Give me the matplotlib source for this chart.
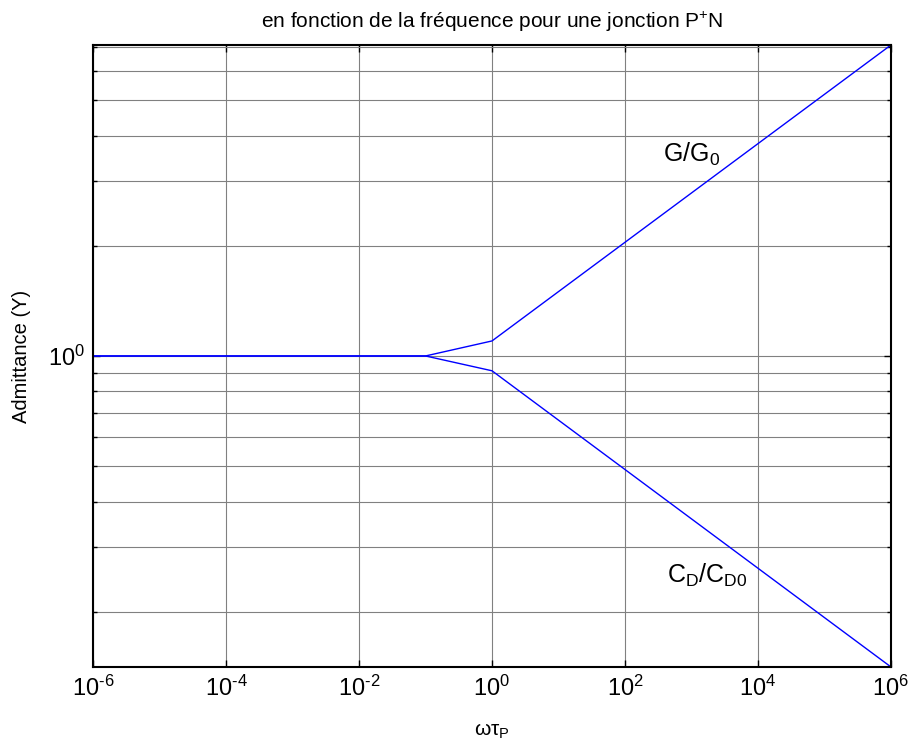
import matplotlib
matplotlib.use("Agg")
import matplotlib.pyplot as plt
from matplotlib.ticker import FixedLocator, NullLocator, NullFormatter, LogLocator, FuncFormatter
import numpy as np

plt.rcParams['font.family'] = ['Liberation Sans', 'DejaVu Sans']
plt.rcParams['mathtext.fontset'] = 'custom'
plt.rcParams['mathtext.rm'] = 'Liberation Sans'
plt.rcParams['mathtext.it'] = 'Liberation Sans'
plt.rcParams['axes.unicode_minus'] = False

# valeurs
w_tau = [1e-6, 1e-1, 1e0, 1e6]
G_G0 = [1.0, 1.0, 1.099, 7.07]
CD_CD0 = [1.0, 1.0, 0.911, 0.1414]
x_ticks = [1e-6, 1e-4, 1e-2, 1e0, 1e2, 1e4, 1e6]

fig = plt.figure(figsize=(9.09, 7.47), dpi=100)
ax = fig.add_axes([0.1023, 0.1071, 0.8779, 0.8327])

ax.loglog(w_tau, G_G0, color='blue', lw=1)
ax.loglog(w_tau, CD_CD0, color='blue', lw=1)

ax.set_xlim(1e-6, 1e6)
ax.set_ylim(min(CD_CD0), max(G_G0))

pow10 = FuncFormatter(lambda v, pos: r'10$^{\text{%d}}$' % round(np.log10(v)))
ax.xaxis.set_major_locator(FixedLocator(x_ticks))
ax.xaxis.set_minor_locator(NullLocator())
ax.xaxis.set_major_formatter(pow10)
ax.yaxis.set_major_locator(LogLocator(base=10))
ax.yaxis.set_major_formatter(pow10)
ax.yaxis.set_minor_locator(LogLocator(base=10, subs=np.arange(2, 10)))
ax.yaxis.set_minor_formatter(NullFormatter())

ax.grid(True, axis='x', which='major', color='0.5', lw=0.8)
ax.grid(True, axis='y', which='both', color='0.5', lw=0.8)

ax.tick_params(which='both', direction='in', top=True, right=True, labelsize=17, width=1)
ax.tick_params(which='major', length=5, pad=6)
ax.tick_params(which='minor', length=3)
for s in ax.spines.values():
    s.set_linewidth(1.5)

ax.set_title('en fonction de la fréquence pour une jonction P$^{+}$N', fontsize=15, pad=12)
ax.set_ylabel('Admittance (Y)', fontsize=14.5, labelpad=12)
ax.set_xlabel(r'$\omega\tau_P$', fontsize=15, labelpad=15)

ax.text(3.7e2, 3.39, 'G/G$_0$', fontsize=18)
ax.text(4.3e2, 0.24, 'C$_D$/C$_{D0}$', fontsize=18)

fig.savefig('out.png', dpi=100)
